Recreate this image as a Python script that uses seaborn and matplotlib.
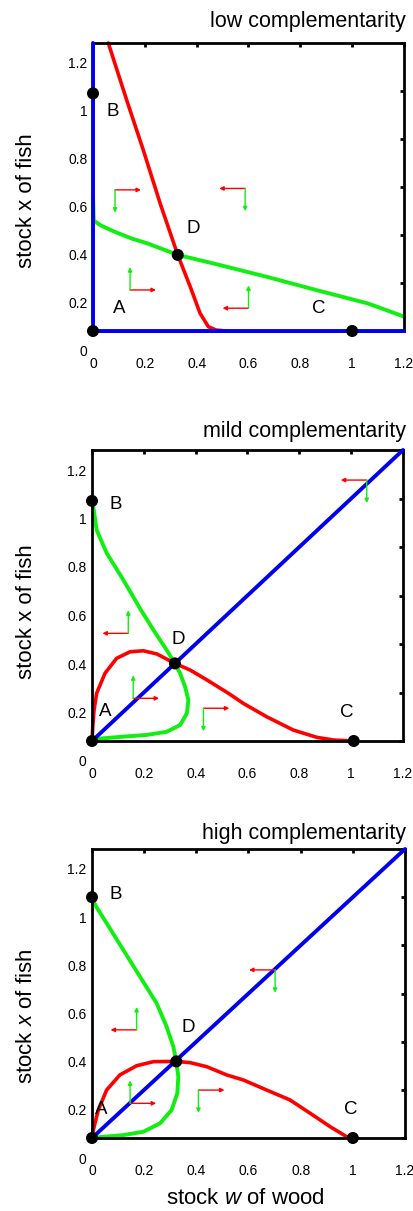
import numpy as np
import matplotlib
matplotlib.use("Agg")
import matplotlib.pyplot as plt
import matplotlib.transforms as mtransforms
import seaborn as sns

sns.set_theme(style="white")
plt.rcParams["font.family"] = ["Liberation Sans", "DejaVu Sans"]
plt.rcParams["mathtext.fontset"] = "custom"
plt.rcParams["mathtext.rm"] = "Liberation Sans"
plt.rcParams["mathtext.it"] = "Liberation Sans:italic"

# ---------------- data: stock w of wood (horizontal), stock x of fish (vertical)
ticks = [0, 0.2, 0.4, 0.6, 0.8, 1.0, 1.2]
tick_labels = ["0", "0.2", "0.4", "0.6", "0.8", "1", "1.2"]

titles = ["low complementarity", "mild complementarity", "high complementarity"]
fish_labels = ["stock x of fish", "stock x of fish", "stock $x$ of fish"]
wood_label = "stock $w$ of wood"

# low complementarity
low_red_w = [0.059, 0.130, 0.194, 0.259, 0.327, 0.375, 0.413, 0.445, 0.475, 0.514]
low_red_x = [1.200, 0.962, 0.754, 0.532, 0.317, 0.185, 0.074, 0.018, 0.004, 0.000]
low_green_w = [0.0, 0.003, 0.03, 0.08, 0.15, 0.21, 0.327, 0.47, 0.67, 0.86, 1.06, 1.2]
low_green_x = [0.56, 0.46, 0.44, 0.415, 0.385, 0.365, 0.317, 0.28, 0.226, 0.171, 0.115, 0.06]
low_blue_w = [[0.0, 1.2], [0.0, 0.0]]
low_blue_x = [[0.0, 0.0], [0.0, 1.2]]
low_eq_w = [0.0, 0.0, 1.0, 0.327]
low_eq_x = [0.0, 0.99, 0.0, 0.317]

# mild complementarity
mild_red_w = [0.0, 0.003, 0.008, 0.018, 0.050, 0.095, 0.147, 0.198, 0.250, 0.32,
              0.378, 0.443, 0.526, 0.584, 0.674, 0.777, 0.868, 0.932, 1.01]
mild_red_x = [0.0, 0.060, 0.128, 0.197, 0.279, 0.341, 0.368, 0.372, 0.359, 0.32,
              0.293, 0.252, 0.197, 0.155, 0.100, 0.045, 0.015, 0.004, 0.0]
mild_green_w = [0.0, 0.005, 0.018, 0.057, 0.121, 0.185, 0.237, 0.288, 0.32, 0.340,
                0.359, 0.372, 0.366, 0.340, 0.288, 0.211, 0.121, 0.031, 0.0]
mild_green_x = [0.99, 0.966, 0.870, 0.774, 0.664, 0.547, 0.458, 0.375, 0.32, 0.279,
                0.224, 0.169, 0.114, 0.066, 0.038, 0.025, 0.018, 0.010, 0.0]
mild_blue_w = [[0.0, 1.2]]
mild_blue_x = [[0.0, 1.2]]
mild_eq_w = [0.0, 0.0, 1.01, 0.32]
mild_eq_x = [0.0, 0.99, 0.0, 0.32]

# high complementarity
high_red_w = [0.0, 0.005, 0.024, 0.056, 0.107, 0.171, 0.235, 0.323, 0.376, 0.440,
              0.516, 0.580, 0.670, 0.759, 0.836, 0.913, 0.977, 1.0]
high_red_x = [0.0, 0.033, 0.116, 0.199, 0.262, 0.300, 0.317, 0.318, 0.313, 0.296,
              0.262, 0.241, 0.199, 0.158, 0.103, 0.047, 0.005, 0.0]
high_green_w = [0.005, 0.012, 0.056, 0.120, 0.184, 0.248, 0.286, 0.312, 0.323,
                0.331, 0.327, 0.305, 0.261, 0.197, 0.120, 0.043, 0.0]
high_green_x = [0.990, 0.968, 0.892, 0.781, 0.670, 0.559, 0.462, 0.379, 0.318,
                0.255, 0.185, 0.116, 0.061, 0.026, 0.012, 0.005, 0.0]
high_blue_w = [[0.0, 1.2]]
high_blue_x = [[0.0, 1.2]]
high_eq_w = [0.0, 0.0, 1.0, 0.323]
high_eq_x = [0.0, 1.0, 0.0, 0.318]

eq_names = ["A", "B", "C", "D"]

# direction markers: corner point, sign of dw/dt (red) and dx/dt (green)
low_dir_w = [0.085, 0.587, 0.143, 0.600]
low_dir_x = [0.588, 0.594, 0.171, 0.095]
low_dir_sw = [1, -1, 1, -1]
low_dir_sx = [-1, -1, 1, 1]
mild_dir_w = [0.140, 1.060, 0.159, 0.430]
mild_dir_x = [0.444, 1.076, 0.176, 0.135]
mild_dir_sw = [-1, -1, 1, 1]
mild_dir_sx = [1, -1, 1, -1]
high_dir_w = [0.171, 0.702, 0.146, 0.408]
high_dir_x = [0.449, 0.698, 0.144, 0.199]
high_dir_sw = [-1, -1, 1, 1]
high_dir_sx = [1, -1, 1, -1]

panels = [
    dict(red=(low_red_w, low_red_x), green=(low_green_w, low_green_x),
         blue=(low_blue_w, low_blue_x), eq=(low_eq_w, low_eq_x),
         dirs=(low_dir_w, low_dir_x, low_dir_sw, low_dir_sx),
         lab_pos=[(0.100, 0.094), (0.078, 0.914), (0.870, 0.094), (0.385, 0.428)],
         rect=[93, 43, 404, 331], ylab_y=201, title_y=21, blue_axes=True),
    dict(red=(mild_red_w, mild_red_x), green=(mild_green_w, mild_green_x),
         blue=(mild_blue_w, mild_blue_x), eq=(mild_eq_w, mild_eq_x),
         dirs=(mild_dir_w, mild_dir_x, mild_dir_sw, mild_dir_sx),
         lab_pos=[(0.050, 0.121), (0.093, 0.977), (0.983, 0.117), (0.331, 0.419)],
         rect=[92, 450, 403, 741], ylab_y=612, title_y=431, blue_axes=False),
    dict(red=(high_red_w, high_red_x), green=(high_green_w, high_green_x),
         blue=(high_blue_w, high_blue_x), eq=(high_eq_w, high_eq_x),
         dirs=(high_dir_w, high_dir_x, high_dir_sw, high_dir_sx),
         lab_pos=[(0.037, 0.119), (0.092, 1.013), (0.992, 0.119), (0.369, 0.458)],
         rect=[92, 849, 405, 1138], ylab_y=1016, title_y=833, blue_axes=False),
]

RED = "#ff0000"
GREEN = "#11ee11"
BLUE = "#0000ee"

W, H = 414, 1211
fig = plt.figure(figsize=(W / 100, H / 100), dpi=100)
axes = []

for i, p in enumerate(panels):
    l, t, r, b = p["rect"]
    ax = fig.add_axes([l / W, (H - b) / H, (r - l) / W, (b - t) / H])
    axes.append(ax)
    ax.set_facecolor("white")

    sns.lineplot(x=p["green"][0], y=p["green"][1], color=GREEN, linewidth=2.8,
                 sort=False, estimator=None, ax=ax)
    ax.lines[-1].set_clip_on(False)
    sns.lineplot(x=p["red"][0], y=p["red"][1], color=RED, linewidth=2.6,
                 sort=False, estimator=None, ax=ax)
    ax.lines[-1].set_clip_on(False)
    for bw, bx in zip(*p["blue"]):
        sns.lineplot(x=bw, y=bx, color=BLUE, linewidth=2.8, sort=False,
                     estimator=None, ax=ax)
        ax.lines[-1].set_clip_on(False)
        ax.lines[-1].set_zorder(3)

    sns.scatterplot(x=p["eq"][0], y=p["eq"][1], color="black", s=75,
                    edgecolor="none", zorder=6, clip_on=False, ax=ax)

    for name, (tx, ty) in zip(eq_names, p["lab_pos"]):
        ax.text(tx, ty, name, fontsize=13.5, ha="center", va="center", color="black")

    dw, dx, sw, sx = p["dirs"]
    for cw, cx, s1, s2 in zip(dw, dx, sw, sx):
        ax.annotate("", xy=(cw + 0.1 * s1, cx), xytext=(cw, cx),
                    arrowprops=dict(arrowstyle="-|>", color=RED, lw=1.0,
                                    mutation_scale=6, shrinkA=0, shrinkB=0))
        ax.annotate("", xy=(cw, cx + 0.095 * s2), xytext=(cw, cx),
                    arrowprops=dict(arrowstyle="-|>", color=GREEN, lw=1.0,
                                    mutation_scale=6, shrinkA=0, shrinkB=0))

    ax.set_xlim(0, 1.2)
    ax.set_ylim(0, 1.2)
    ax.set_xticks(ticks)
    ax.set_xticklabels(tick_labels)
    ax.set_yticks(ticks)
    ax.set_yticklabels(tick_labels)
    ax.set_xlabel("")
    ax.set_ylabel("")
    ax.tick_params(direction="in", length=3, width=2, top=True, right=True,
                   labelsize=10, colors="black")
    ax.tick_params(axis="x", pad=19)
    ax.tick_params(axis="y", pad=4)
    for sp in ax.spines.values():
        sp.set_color("black")
        sp.set_linewidth(2.0)
        sp.set_visible(True)
    if p["blue_axes"]:
        ax.spines["left"].set_color(BLUE)
        ax.spines["bottom"].set_color(BLUE)

    fig.text(406 / W, 1 - p["title_y"] / H, titles[i], ha="right", va="center",
             fontsize=15.5, color="black")
    fig.text(27 / W, 1 - p["ylab_y"] / H, fish_labels[i], rotation=90,
             ha="center", va="center", fontsize=16, color="black")

fig.text(245 / W, 1 - 1198 / H, wood_label, ha="center", va="center",
         fontsize=16, color="black")

# fish tick labels sit a little below their tick marks
fig.canvas.draw()
shift = mtransforms.ScaledTranslation(0, -20 / 100, fig.dpi_scale_trans)
for ax in axes:
    for tk in ax.yaxis.get_major_ticks():
        tk.label1.set_transform(tk.label1.get_transform() + shift)

fig.savefig("out.png", dpi=100, facecolor="white")
